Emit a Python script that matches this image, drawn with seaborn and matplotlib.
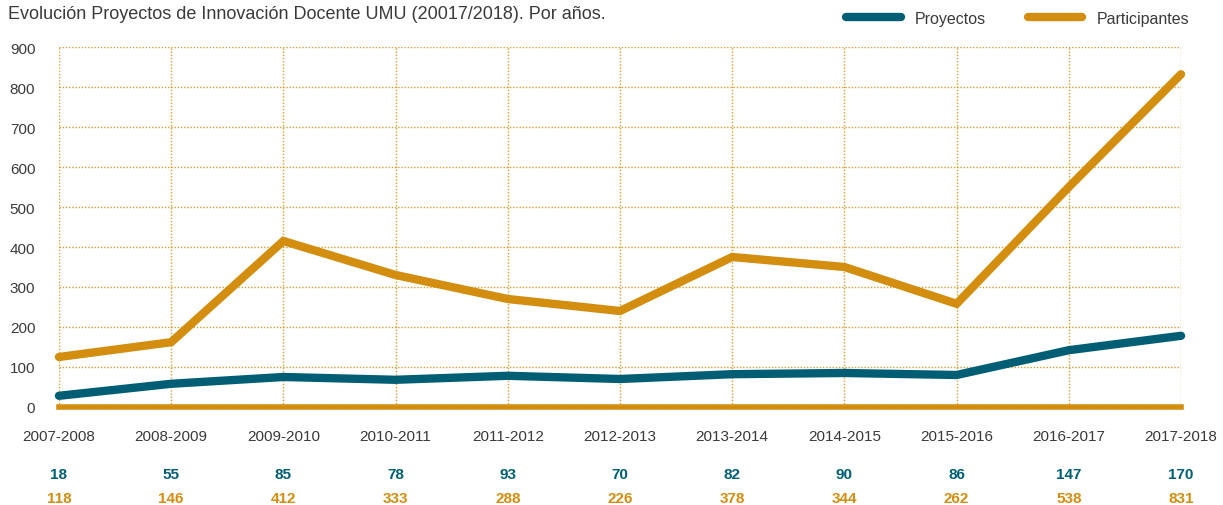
import seaborn as sns
import matplotlib.pyplot as plt
import pandas as pd
import numpy as np
from matplotlib.lines import Line2D

# Data
cursos = ['2007-2008', '2008-2009', '2009-2010', '2010-2011', '2011-2012',
          '2012-2013', '2013-2014', '2014-2015', '2015-2016', '2016-2017',
          '2017-2018']
proyectos_linea = [28, 58, 75, 68, 78, 70, 82, 85, 80, 142, 178]
participantes_linea = [125, 162, 415, 330, 270, 240, 375, 350, 258, 550, 832]
proyectos_tabla = [18, 55, 85, 78, 93, 70, 82, 90, 86, 147, 170]
participantes_tabla = [118, 146, 412, 333, 288, 226, 378, 344, 262, 538, 831]

TEAL = '#005e74'
ORANGE = '#d38d0f'
TEXT = '#3a3a3a'

data = pd.DataFrame({
    'curso': cursos * 2,
    'valor': proyectos_linea + participantes_linea,
    'serie': ['Proyectos'] * len(cursos) + ['Participantes'] * len(cursos),
})

sns.set_theme(style='white')
plt.rcParams['font.family'] = ['Liberation Sans', 'DejaVu Sans']

fig = plt.figure(figsize=(12.23, 5.06), dpi=100)
ax = fig.add_axes([0.0482, 0.1937, 0.9175, 0.7114])

# dotted grid
ax.set_axisbelow(True)
ax.grid(True, color=ORANGE, linestyle=(0, (1, 1.3)), linewidth=1.0, alpha=0.85)

sns.lineplot(data=data, x='curso', y='valor', hue='serie',
             palette={'Proyectos': TEAL, 'Participantes': ORANGE},
             linewidth=6, ax=ax, legend=False, sort=False)
for line in ax.get_lines():
    line.set_solid_capstyle('round')
    line.set_solid_joinstyle('miter')
    line.set_clip_on(False)

ax.set_xlim(0, len(cursos) - 1)
ax.set_ylim(0, 900)
ax.set_yticks(np.arange(0, 901, 100))
ax.set_xlabel('')
ax.set_ylabel('')

for s in ['top', 'right', 'left']:
    ax.spines[s].set_visible(False)
ax.spines['bottom'].set_color(ORANGE)
ax.spines['bottom'].set_linewidth(4)

ax.tick_params(axis='y', length=0, pad=17, labelsize=11, labelcolor=TEXT)
ax.tick_params(axis='x', length=0, pad=16, labelsize=11, labelcolor=TEXT)

# table of values under the axis
for i in range(len(cursos)):
    ax.text(i, -0.185, str(proyectos_tabla[i]), transform=ax.get_xaxis_transform(),
            ha='center', va='center', color=TEAL, fontsize=11, fontweight='bold')
    ax.text(i, -0.252, str(participantes_tabla[i]), transform=ax.get_xaxis_transform(),
            ha='center', va='center', color=ORANGE, fontsize=11, fontweight='bold')

fig.text(0.0065, 0.972, 'Evolución Proyectos de Innovación Docente UMU (20017/2018). Por años.',
         ha='left', va='center', fontsize=13, color=TEXT)

handles = [Line2D([], [], color=TEAL, linewidth=6, solid_capstyle='round'),
           Line2D([], [], color=ORANGE, linewidth=6, solid_capstyle='round')]
fig.legend(handles, ['Proyectos', 'Participantes'], loc='center right',
           bbox_to_anchor=(0.984, 0.962), ncol=2, frameon=False, fontsize=11.5,
           handlelength=3.4, columnspacing=2.6, handletextpad=0.9,
           labelcolor=TEXT)

plt.savefig('out.png', dpi=100)
